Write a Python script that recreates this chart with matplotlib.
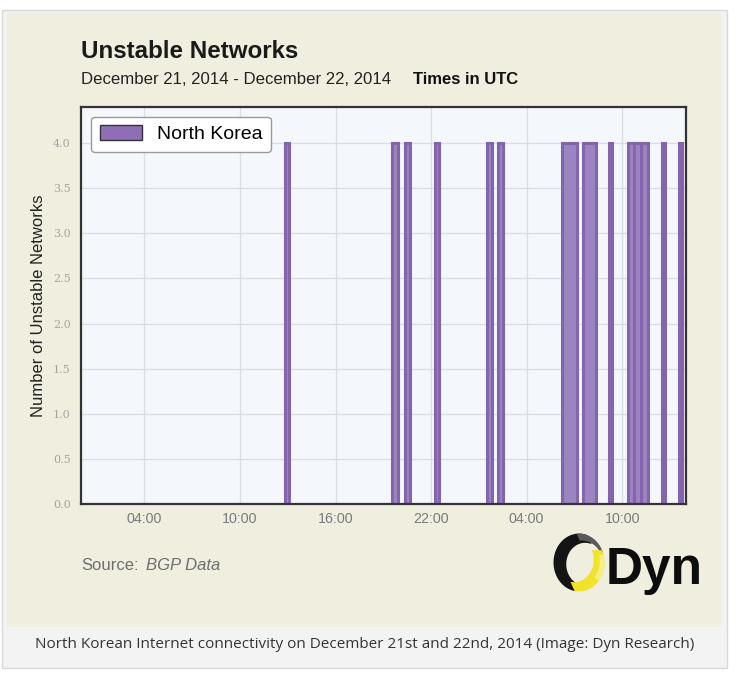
import matplotlib
matplotlib.use("Agg")
import matplotlib.pyplot as plt
import matplotlib.dates as mdates
from matplotlib.patches import Rectangle, Patch, Polygon
import numpy as np
import pandas as pd

# ---------------- data ----------------
range_start = "2014-12-21 00:00"
range_end = "2014-12-22 14:00"
event_start = ["2014-12-21 12:51", "2014-12-21 19:31", "2014-12-21 20:23", "2014-12-21 22:15",
               "2014-12-22 01:30", "2014-12-22 02:11", "2014-12-22 06:12", "2014-12-22 07:31",
               "2014-12-22 09:11", "2014-12-22 10:21", "2014-12-22 10:45", "2014-12-22 11:10",
               "2014-12-22 12:28", "2014-12-22 13:32"]
event_end = ["2014-12-21 13:03", "2014-12-21 19:55", "2014-12-21 20:41", "2014-12-21 22:31",
             "2014-12-22 01:51", "2014-12-22 02:30", "2014-12-22 07:09", "2014-12-22 08:22",
             "2014-12-22 09:23", "2014-12-22 10:45", "2014-12-22 11:10", "2014-12-22 11:37",
             "2014-12-22 12:40", "2014-12-22 13:46"]
event_value = [4, 4, 4, 4, 4, 4, 4, 4, 4, 4, 4, 4, 4, 4]
series_name = "North Korea"
y_ticks = [0.0, 0.5, 1.0, 1.5, 2.0, 2.5, 3.0, 3.5, 4.0]
tick_hours = [4, 10, 16, 22]

W, H = 738, 677
fig = plt.figure(figsize=(W / 100, H / 100), dpi=100, facecolor="white")


def fx(px):
    return px / W


def fy(py):
    return 1 - py / H


# card + panels
fig.add_artist(Rectangle((fx(2), fy(668)), fx(725), 658 / H, transform=fig.transFigure,
                         facecolor="#f3f3f3", edgecolor="#d9d9d9", lw=1, zorder=0))
fig.add_artist(Rectangle((fx(7), fy(627)), fx(714), 614 / H, transform=fig.transFigure,
                         facecolor="#f0eedf", edgecolor="none", zorder=0))

# ---------------- main axes ----------------
ax = fig.add_axes([fx(80.6), fy(504), fx(686 - 80.6), (504 - 107) / H])
ax.set_facecolor("#f4f7fb")

fill_col = "#9279bb"
edge_col = "#8465ad"
starts = pd.to_datetime(event_start)
ends = pd.to_datetime(event_end)
t0 = pd.to_datetime(range_start)
t1 = pd.to_datetime(range_end)

xs = [t0]
ys = [0]
for s, e, v in zip(starts, ends, event_value):
    ax.fill_between([s, e], 0, v, color=fill_col, alpha=0.9, lw=0, zorder=3)
    ax.plot([s, s, e, e], [0, v, v, 0], color=edge_col, lw=2.2, zorder=4,
            solid_joinstyle="miter")
    xs += [s, s, e, e]
    ys += [0, v, v, 0]
xs.append(t1)
ys.append(0)
ax.plot(xs, ys, color=edge_col, lw=2.0, zorder=4)

ax.set_xlim(t0, t1)
ax.set_ylim(0, 4.4)
ax.set_yticks(y_ticks)
ax.set_yticklabels([f"{v:.1f}" for v in y_ticks], fontfamily="DejaVu Serif",
                   fontsize=8, color="#a3a3a3")
ax.xaxis.set_major_locator(mdates.HourLocator(byhour=tick_hours))
ax.xaxis.set_major_formatter(mdates.DateFormatter("%H:%M"))
for lab in ax.get_xticklabels():
    lab.set_fontfamily("Liberation Sans")
    lab.set_fontsize(10.3)
    lab.set_color("#7a7a7a")
ax.tick_params(axis="both", length=0)
ax.tick_params(axis="y", pad=7)
ax.tick_params(axis="x", pad=6)
ax.grid(True, color="#d9dce2", lw=0.9, zorder=0)
ax.set_axisbelow(True)
for sp in ax.spines.values():
    sp.set_color("#333333")
    sp.set_linewidth(1.6)
    sp.set_zorder(6)

ax.set_ylabel("Number of Unstable Networks", fontfamily="Liberation Sans", fontsize=12,
              color="#222222", labelpad=5)

leg = ax.legend(handles=[Patch(facecolor="#8e6fb6", edgecolor="#333333", lw=1, label=series_name)],
                loc="upper left", bbox_to_anchor=(0.017, 0.976), borderaxespad=0,
                prop={"family": "Liberation Sans", "size": 14}, handlelength=2.2,
                handleheight=0.75, handletextpad=0.75, borderpad=0.45,
                fancybox=True, framealpha=1, edgecolor="#9a9a9a", facecolor="white")
leg.get_frame().set_linewidth(1.0)
leg.set_zorder(10)

# ---------------- titles ----------------
fig.text(fx(81), fy(52), "Unstable Networks", fontfamily="Liberation Sans", fontweight="bold",
         fontsize=17.4, color="#1a1a1a", va="center", ha="left")
fig.text(fx(81), fy(80), "December 21, 2014 - December 22, 2014", fontfamily="Liberation Sans",
         fontsize=12.1, color="#222222", va="center", ha="left")
fig.text(fx(413), fy(80), "Times in UTC", fontfamily="Liberation Sans", fontweight="bold",
         fontsize=12, color="#111111", va="center", ha="left")

# source
fig.text(fx(81), fy(566), "Source:", fontfamily="Liberation Sans", fontsize=12,
         color="#6e6e6e", va="center", ha="left")
fig.text(fx(146), fy(566), "BGP Data", fontfamily="Liberation Sans", fontstyle="italic",
         fontsize=12, color="#6e6e6e", va="center", ha="left")

# Dyn logo (ribbon ring)
lax = fig.add_axes([fx(553), fy(592), fx(52), 59 / H])
lax.set_xlim(-1.02, 1.02)
lax.set_ylim(-1.02, 1.02)
lax.axis("off")


def crescent(a1, a2, icx, icy, ir):
    a = np.radians(np.linspace(a1, a2, 80))
    outer = np.column_stack([np.cos(a), np.sin(a)])
    inner = np.column_stack([icx + ir * np.cos(a[::-1]), icy + ir * np.sin(a[::-1])])
    return np.vstack([outer, inner])


lax.add_patch(Polygon(crescent(70, 262, 0.24, -0.06, 0.74), closed=True,
                      facecolor="#141414", edgecolor="none"))
lax.add_patch(Polygon(crescent(20, 95, 0.10, -0.10, 0.86), closed=True,
                      facecolor="#5a5a5a", edgecolor="none"))
lax.add_patch(Polygon(crescent(-100, 25, -0.2, 0.1, 0.78), closed=True,
                      facecolor="#f1e22c", edgecolor="none"))
lax.add_patch(Polygon(crescent(-40, 15, -0.05, 0.05, 0.86), closed=True,
                      facecolor="#f7ef86", edgecolor="none"))
fig.text(fx(606), fy(584), "Dyn", fontfamily="Liberation Sans", fontweight="bold",
         fontsize=37, color="#0d0d0d", va="baseline", ha="left")

# caption
fig.text(fx(365), fy(645), "North Korean Internet connectivity on December 21st and 22nd, 2014 (Image: Dyn Research)",
         fontfamily="Open Sans", fontsize=11, color="#333333", va="center", ha="center")

fig.savefig("out.png", dpi=100, facecolor=fig.get_facecolor())
